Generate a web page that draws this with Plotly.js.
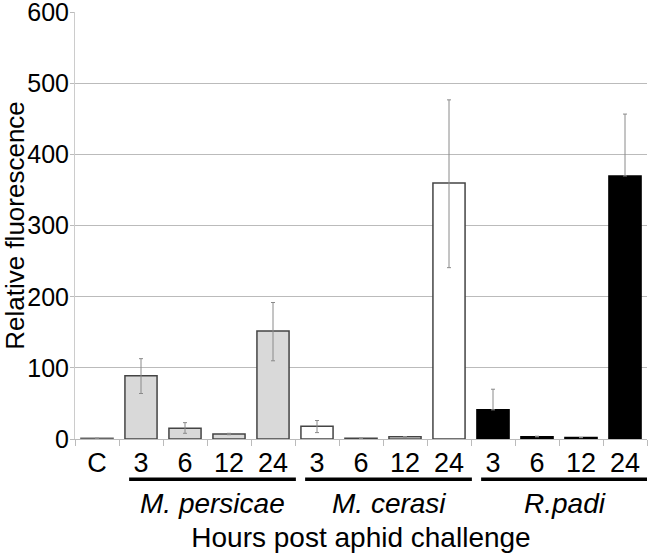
<!DOCTYPE html>
<html>
<head>
<meta charset="utf-8">
<script src="https://cdn.plot.ly/plotly-3.0.1.min.js"></script>
<style>html,body{margin:0;padding:0;background:#fff;}#chart{width:651px;height:553px;}</style>
</head>
<body>
<div id="chart"></div>
<script>
// Category tick labels (hours post challenge)
const tickLabels = ['C','3','6','12','24','3','6','12','24','3','6','12','24'];
// Group of each bar
const groups = ['Control','M. persicae','M. persicae','M. persicae','M. persicae','M. cerasi','M. cerasi','M. cerasi','M. cerasi','R.padi','R.padi','R.padi','R.padi'];
// Relative fluorescence values
const values = [1, 89, 15, 7, 152, 18, 1, 3, 360, 41, 3, 2, 370];
// Error bar extents (upper / lower, as visible)
const errUp   = [0, 24, 8, 1, 40, 8, 0, 0.5, 117, 29, 1, 0, 87];
const errDown = [0, 25, 7, 1, 42, 9, 0, 0.5, 119, 0, 0, 0, 0];
// Group labels shown under the axis
const groupNames = ['M. persicae','M. cerasi','R.padi'];
const groupStart = [1, 5, 9];
const groupEnd = [4, 8, 12];
// Y axis ticks
const yTicks = [0, 100, 200, 300, 400, 500, 600];

const fillFor = {'Control':'#d9d9d9','M. persicae':'#d9d9d9','M. cerasi':'#ffffff','R.padi':'#000000'};
const lineFor = {'Control':'#666666','M. persicae':'#444444','M. cerasi':'#444444','R.padi':'#000000'};

const xs = tickLabels.map((_, i) => i);

const trace = {
  type: 'bar',
  x: xs,
  y: values,
  marker: {
    color: groups.map(g => fillFor[g]),
    line: {color: groups.map(g => lineFor[g]), width: 1.5}
  },
  error_y: {type: 'data', symmetric: false, array: errUp, arrayminus: errDown, color: '#8a8a8a', thickness: 1, width: 2},
  hoverinfo: 'y'
};
// invisible helper trace to carry the tick-mark axis
const helper = {type: 'scatter', x: [0], y: [0], yaxis: 'y2', mode: 'markers', marker: {opacity: 0}, hoverinfo: 'skip'};

const font = 'Arial, "Liberation Sans", sans-serif';
const shapes = groupNames.map((g, k) => ({
  type: 'line', xref: 'x', yref: 'paper',
  x0: groupStart[k] - 0.27, x1: groupEnd[k] + 0.52,
  y0: -0.094, y1: -0.094,
  line: {color: '#000', width: 3.5}
}));
const annotations = groupNames.map((g, k) => ({
  xref: 'x', yref: 'paper',
  x: (groupStart[k] - 0.27 + groupEnd[k] + 0.52) / 2,
  y: -0.15, yanchor: 'middle', xanchor: 'center',
  text: '<i>' + g + '</i>', showarrow: false,
  font: {family: font, size: 28, color: '#000'}
}));

const yRange = [0, 600.6];

const layout = {
  width: 651, height: 553,
  margin: {l: 75, r: 4, t: 12, b: 114},
  paper_bgcolor: '#fff', plot_bgcolor: '#fff',
  showlegend: false,
  bargap: 0.27,
  font: {family: font, color: '#000'},
  xaxis: {
    range: [-0.5, 12.5],
    tickmode: 'array', tickvals: xs, ticktext: tickLabels,
    ticks: '',
    tickfont: {family: font, size: 27, color: '#000'},
    minor: {tickmode: 'array', tickvals: xs.map(i => i - 0.5).concat([12.5]), ticks: 'outside', ticklen: 6, tickcolor: '#bbbbbb', showgrid: false},
    showgrid: false, zeroline: false,
    showline: true, linecolor: '#bbbbbb', linewidth: 1,
    automargin: false,
    title: {text: 'Hours post aphid challenge', font: {family: font, size: 28, color: '#000'}, standoff: 50}
  },
  yaxis: {
    range: yRange, tickmode: 'array', tickvals: yTicks,
    showgrid: true, gridcolor: '#bbbbbb', gridwidth: 1,
    zeroline: true, zerolinecolor: '#bbbbbb', zerolinewidth: 1,
    showline: true, linecolor: '#cccccc', linewidth: 1,
    ticks: '',
    ticklabeloverflow: 'allow',
    tickfont: {family: font, size: 25, color: '#000'},
    automargin: false,
    title: {text: 'Relative fluorescence', font: {family: font, size: 26, color: '#000'}, standoff: 6}
  },
  yaxis2: {
    overlaying: 'y', side: 'left', range: yRange, tickmode: 'array', tickvals: yTicks,
    showticklabels: false, showgrid: false, zeroline: false, showline: false,
    ticks: 'outside', ticklen: 4, tickcolor: '#bbbbbb', automargin: false
  },
  shapes: shapes,
  annotations: annotations
};

Plotly.newPlot('chart', [trace, helper], layout, {displayModeBar: false, staticPlot: true});
</script>
</body>
</html>
